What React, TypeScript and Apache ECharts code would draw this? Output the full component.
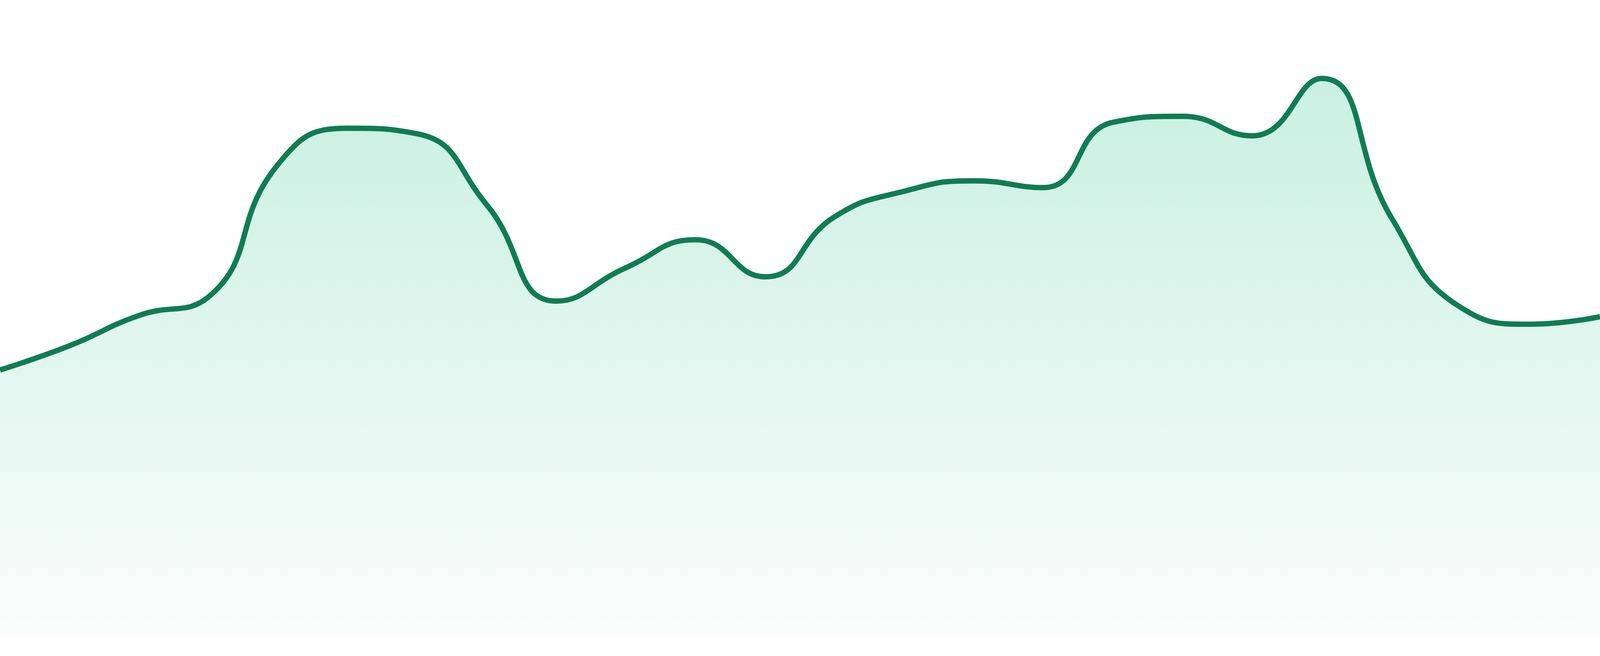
import React, { useEffect, useRef } from 'react'
import * as echarts from 'echarts'

// one point per period
const categories = [
  'W01', 'W02', 'W03', 'W04', 'W05', 'W06', 'W07', 'W08',
  'W09', 'W10', 'W11', 'W12', 'W13', 'W14', 'W15', 'W16',
  'W17', 'W18', 'W19', 'W20', 'W21', 'W22', 'W23', 'W24'
]
const values = [
  67.1, 73.2, 80.8, 85.5, 118.8, 127.8, 126.4, 108.5,
  84.4, 92.8, 99.8, 90.5, 105.6, 112.0, 114.6, 112.9,
  129.3, 130.8, 125.9, 140.3, 105.4, 82.8, 78.6, 80.5
]
const yMin = 0
const yMax = 160

export default function App() {
  const chartRef: any = useRef()

  useEffect(() => {
    const el = chartRef.current
    const myChart = echarts.init(el, null, { renderer: 'svg' })
    // reference was drawn at 4800px wide, keep the stroke proportional
    const scale = el.clientWidth / 4800
    const option = {
      animation: false,
      grid: { top: 0, bottom: '2.857%', left: 0, right: 0 },
      xAxis: {
        type: 'category',
        data: categories,
        boundaryGap: false,
        show: false
      },
      yAxis: {
        type: 'value',
        min: yMin,
        max: yMax,
        show: false,
        splitLine: { show: false }
      },
      series: [
        {
          type: 'line',
          data: values,
          smooth: true,
          showSymbol: false,
          symbol: 'none',
          lineStyle: { color: '#107C52', width: 16 * scale },
          areaStyle: {
            color: new echarts.graphic.LinearGradient(0, 0, 0, 1, [
              { offset: 0, color: 'rgba(16,185,129,0.32)' },
              { offset: 1, color: 'rgba(16,185,129,0.03)' }
            ])
          }
        }
      ]
    }
    myChart.setOption(option)
    return () => {
      myChart.dispose()
    }
  }, [])

  return (
    <div
      ref={chartRef}
      style={{ position: 'fixed', left: 0, top: 0, width: '100vw', height: '100vh', background: '#ffffff' }}
    />
  )
}
